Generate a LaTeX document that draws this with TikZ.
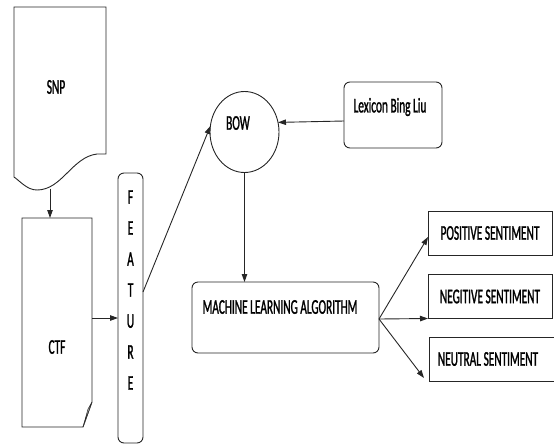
\documentclass[tikz,border=0pt]{standalone}
\usepackage{fontspec}
\setmainfont{Carlito}[FakeStretch=0.54,FakeBold=1.2]
\usetikzlibrary{arrows.meta,shapes.geometric}

\begin{document}
\begin{tikzpicture}[x=1pt,y=-1pt,
  every node/.style={font=\fontsize{21}{24}\selectfont,inner sep=0pt,outer sep=0pt},
  ln/.style={draw=black!85,line width=0.9pt},
  box/.style={ln,minimum width=124pt,minimum height=44pt},
  rbox/.style={ln,rounded corners=6pt},
  arr/.style={ln,-{Triangle[length=8pt,width=5.5pt]}}]
\useasboundingbox (0,0) rectangle (554,445);
% documents on the left
\node (snp) at (56,87) {SNP};
\draw[ln] (14,7) -- (106,7) -- (106,154) -- (97,154)
  .. controls (72,157) and (62,190) .. (37,190)
  .. controls (27,190) and (20,181) .. (14,177) -- cycle;
\coordinate (snpb) at (50,188.5);
\node (ctf) [minimum width=70pt,minimum height=209pt] at (57,322.5) {};
\draw[ln] (ctf.north west) -- (ctf.north east) -- ([yshift=25pt]ctf.south east)
  -- ([xshift=-9pt]ctf.south east) -- (ctf.south west) -- cycle;
\filldraw[fill=black!25,draw=black!85,line width=0.5pt] ([yshift=25pt]ctf.south east)
  -- ([xshift=-4pt,yshift=18pt]ctf.south east) -- ([xshift=-9pt]ctf.south east) -- cycle;
\node (ctftxt) at (57,347) {CTF};
% feature column
\node (feat) [rbox,minimum width=25pt,minimum height=270pt] at (130.5,308) {};
\node (feattxt) [align=center,font=\fontsize{21}{31}\selectfont] at (130.5,290) {F\\E\\A\\T\\U\\R\\E};
% bag of words and lexicon
\node (bow) [ln,ellipse,minimum width=69pt,minimum height=81pt] at (244.5,132) {};
\node (bowtxt) at (238,123) {BOW};
\node (lex) [rbox,minimum width=98pt,minimum height=66pt] at (393,115) {};
\node (lextxt) at (390,107) {Lexicon Bing Liu};
% classifier and outputs
\node (mla) [rbox,minimum width=187pt,minimum height=71pt] at (285.5,317.5) {};
\node (mlatxt) at (280,307) {MACHINE LEARNING ALGORITHM};
\node (pos) [box] at (490,233) {POSITIVE SENTIMENT};
\node (neg) [box] at (490,296.5) {NEGITIVE SENTIMENT};
\node (neu) [box,minimum width=127pt] at (492.5,359) {\hspace{-9pt}NEUTRAL SENTIMENT};
% connectors
\draw[arr] (snpb) -- (snpb |- ctf.north);
\draw[arr] ([yshift=4.5pt]ctf.east) -- ([yshift=4.5pt]ctf.east -| feat.west);
\draw[arr] ([yshift=16pt]feat.east) -- (bow.170);
\draw[arr] ([yshift=-6pt]lex.west) -- (bow.16);
\draw[arr] (bow.south) -- (bow.south |- mla.north);
\draw[arr] ([yshift=-1.5pt]mla.east) -- ([yshift=-4pt]pos.west);
\draw[arr] ([yshift=-1.5pt]mla.east) -- (neg.south west);
\draw[arr] ([yshift=-1.5pt]mla.east) -- ([xshift=-5pt,yshift=3pt]neu.south west);
\end{tikzpicture}
\end{document}
